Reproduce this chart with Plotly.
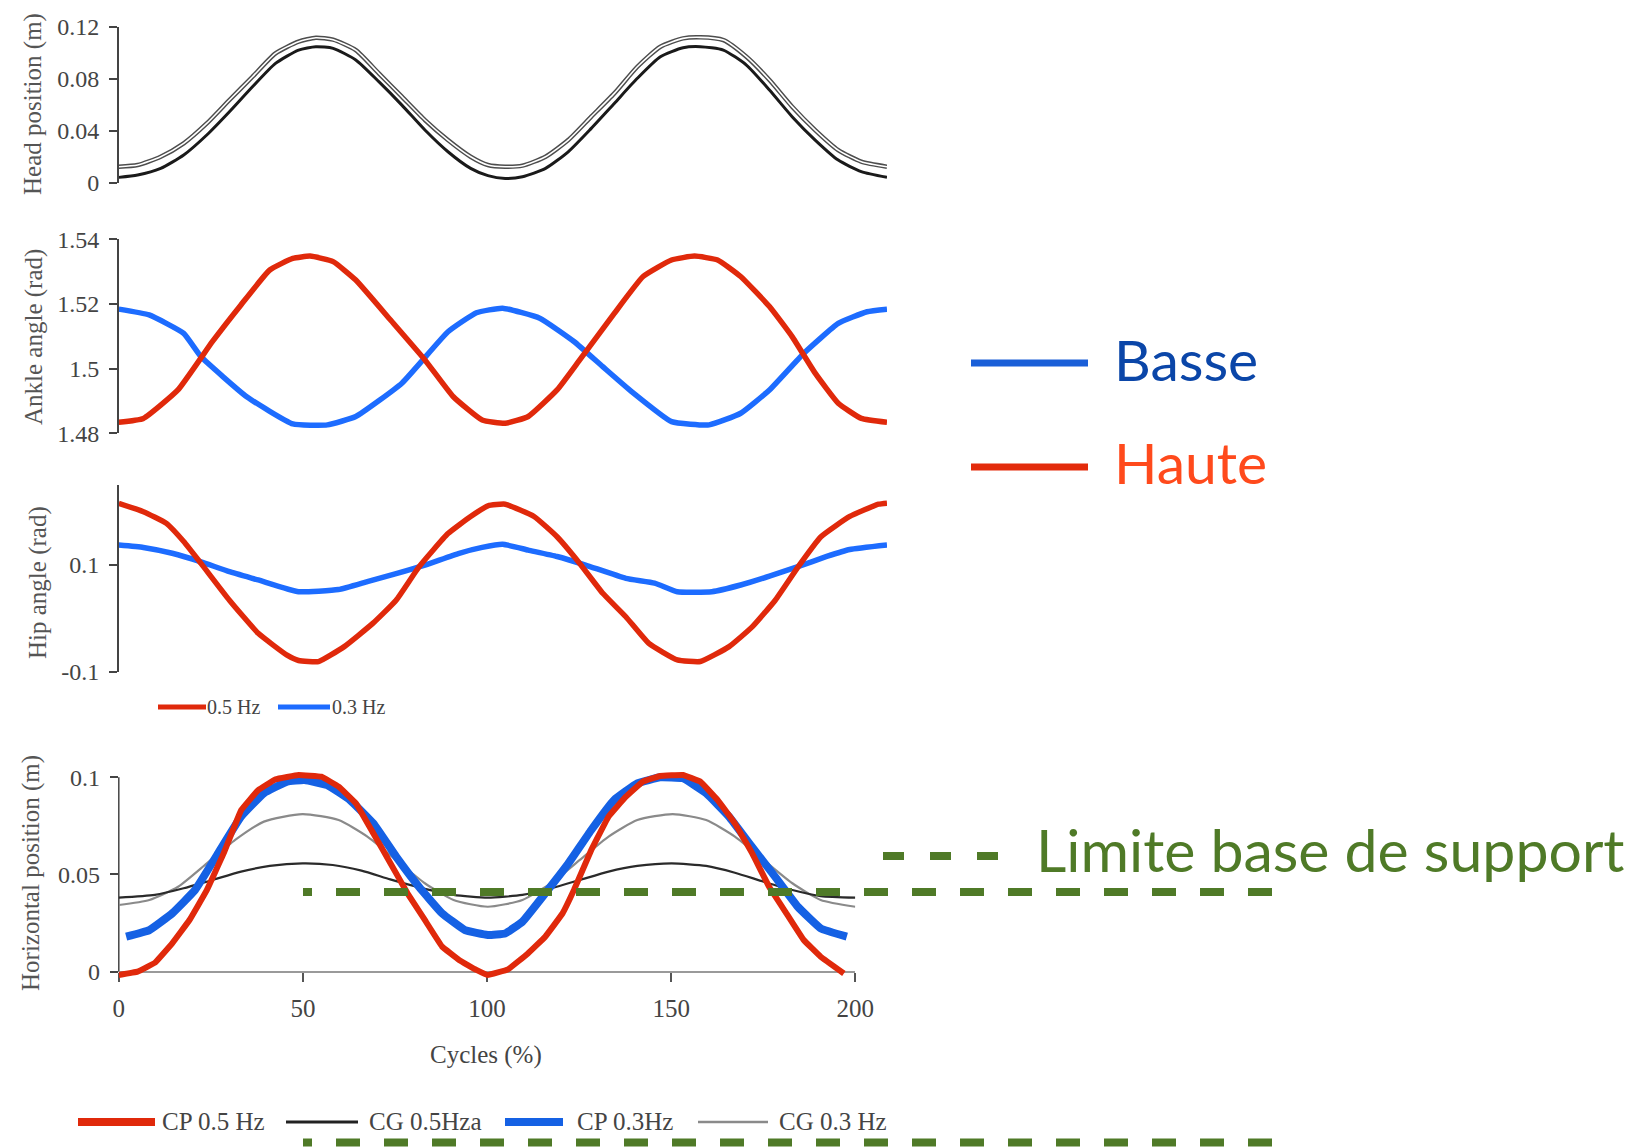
import plotly.graph_objects as go

W, H = 1640, 1147
def PX(x): return x / W
def PY(y): return 1 - y / H

# ---------------- DATA ----------------
head_x = [0, 4.9, 10.9, 16.9, 22.9, 28.8, 34.8, 40.8, 46.8, 51.3, 55.8, 61.7, 67.7, 73.7, 79.7, 85.7, 91.6, 96.1,
          100.6, 105.1, 111.1, 117.0, 123.0, 129.0, 135.0, 141.0, 146.9, 151.4, 157.4, 163.4, 169.4, 175.3, 181.3,
          187.3, 193.3, 200]
head_upper = [0.0123, 0.0136, 0.020, 0.0303, 0.0456, 0.0636, 0.0815, 0.0995, 0.1085, 0.1115, 0.110, 0.102, 0.0841,
              0.0662, 0.0482, 0.0328, 0.020, 0.0136, 0.0123, 0.0131, 0.020, 0.0328, 0.0508, 0.0687, 0.0892, 0.1046,
              0.111, 0.1118, 0.1097, 0.0969, 0.079, 0.0585, 0.0405, 0.0251, 0.0162, 0.0123]
head_lower = [0.0041, 0.0059, 0.011, 0.0213, 0.0367, 0.0546, 0.0738, 0.0918, 0.102, 0.1046, 0.1033, 0.0944, 0.0777,
              0.0597, 0.0405, 0.0238, 0.011, 0.0054, 0.0033, 0.0046, 0.011, 0.0238, 0.0418, 0.061, 0.0803, 0.0969,
              0.1038, 0.1046, 0.102, 0.0905, 0.0713, 0.0508, 0.0328, 0.0174, 0.0085, 0.0041]

ankle_red_x = [0, 6.4, 15.4, 24.4, 31.8, 39.3, 45.3, 49.8, 55.8, 61.7, 70.7, 79.7, 87.1, 94.6, 100.6, 106.6, 114.1,
               120.0, 129.0, 136.5, 143.9, 149.9, 155.9, 161.9, 169.4, 175.3, 181.3, 187.3, 193.3, 200]
ankle_red = [1.4834, 1.4846, 1.4934, 1.5084, 1.5197, 1.5305, 1.5341, 1.5348, 1.5331, 1.5274, 1.5151, 1.5027, 1.4913,
             1.4841, 1.4831, 1.4852, 1.4934, 1.5027, 1.5171, 1.5285, 1.5336, 1.5348, 1.5336, 1.5285, 1.5192, 1.5099,
             1.4986, 1.4893, 1.4846, 1.4834]
ankle_blue_x = [0, 7.9, 16.9, 21.4, 33.3, 45.3, 54.3, 61.7, 73.7, 85.7, 93.1, 99.9, 109.6, 118.5, 126.0, 133.5,
                143.9, 153.7, 161.9, 169.4, 178.3, 187.3, 194.8, 200]
ankle_blue = [1.5184, 1.5166, 1.5109, 1.5037, 1.4913, 1.4829, 1.4826, 1.4852, 1.4955, 1.5114, 1.5173, 1.5187,
              1.5156, 1.5084, 1.5006, 1.4929, 1.4836, 1.4826, 1.4862, 1.4934, 1.5047, 1.5140, 1.5176, 1.5184]

hip_red_x = [0, 6.4, 12.4, 16.9, 21.4, 28.8, 36.3, 43.8, 46.8, 52.0, 58.7, 66.2, 72.2, 78.2, 85.7, 91.6, 96.1, 100.6,
             108.1, 114.1, 120.0, 126.0, 132.0, 138.0, 145.4, 151.4, 158.9, 164.9, 170.9, 176.9, 182.8, 190.3,
             197.8, 200]
hip_red = [0.2156, 0.2, 0.178, 0.144, 0.103, 0.034, -0.028, -0.069, -0.079, -0.081, -0.053, -0.009, 0.034, 0.097,
           0.159, 0.191, 0.211, 0.214, 0.191, 0.153, 0.103, 0.047, 0.003, -0.047, -0.078, -0.081, -0.053, -0.016,
           0.034, 0.097, 0.153, 0.191, 0.214, 0.216]
hip_blue_x = [0, 6.4, 13.9, 21.4, 28.8, 36.3, 46.8, 57.2, 64.7, 72.2, 79.7, 88.6, 94.6, 99.9, 106.6, 114.1, 121.5,
              132.0, 139.5, 145.4, 154.4, 161.9, 169.4, 176.8, 184.3, 190.3, 200]
hip_blue = [0.1375, 0.133, 0.122, 0.106, 0.0875, 0.072, 0.05, 0.054, 0.069, 0.084, 0.1, 0.122, 0.133, 0.139, 0.128,
            0.116, 0.1, 0.075, 0.066, 0.05, 0.05, 0.0625, 0.079, 0.097, 0.116, 0.129, 0.1375]

cp05_x = [0, 5.1, 9.8, 14.5, 19.2, 23.9, 28.5, 33.2, 37.9, 42.6, 48.8, 55.0, 59.7, 64.4, 69.1, 73.8, 78.4, 83.1,
          87.8, 92.4, 97.1, 100.2, 105.7, 111.1, 115.8, 120.5, 123.6, 128.3, 133.0, 137.7, 142.3, 147.0, 153.2,
          157.9, 162.6, 167.3, 172.0, 176.6, 181.3, 186.0, 190.6, 196.9]
cp05 = [-0.0017, 0, 0.0046, 0.0146, 0.0266, 0.042, 0.061, 0.083, 0.0935, 0.099, 0.1012, 0.1003, 0.0952, 0.0866,
        0.0712, 0.0557, 0.0403, 0.0266, 0.0129, 0.006, 0.0009, -0.0017, 0.0012, 0.0094, 0.018, 0.030, 0.042, 0.0626,
        0.0798, 0.090, 0.0978, 0.1007, 0.1012, 0.0978, 0.0883, 0.0763, 0.0609, 0.0437, 0.030, 0.0163, 0.0077,
        -0.0009]
cp03_x = [2.0, 8.3, 14.5, 20.7, 27.0, 33.2, 39.4, 45.7, 50.4, 56.6, 62.8, 69.1, 75.3, 81.5, 87.8, 94.0, 100.2, 104.9,
          109.6, 115.8, 122.1, 128.3, 134.5, 140.8, 147.0, 153.2, 159.5, 165.7, 171.9, 178.2, 184.4, 190.6, 197.7]
cp03 = [0.018, 0.0214, 0.030, 0.042, 0.061, 0.0798, 0.0918, 0.0978, 0.0986, 0.096, 0.0883, 0.0763, 0.0592, 0.0437,
        0.030, 0.0214, 0.0189, 0.0197, 0.0257, 0.0403, 0.0557, 0.0729, 0.0883, 0.0969, 0.100, 0.0995, 0.0918,
        0.0798, 0.0643, 0.0489, 0.0334, 0.0223, 0.018]
cg05_x = [0, 9.8, 17.6, 25.4, 33.2, 41.0, 49.9, 58.1, 65.9, 73.7, 81.5, 90.9, 100.2, 109.6, 117.4, 125.2, 133.0,
          140.8, 150.1, 159.5, 167.3, 175.1, 182.9, 190.6, 200]
cg05 = [0.0381, 0.0395, 0.0429, 0.0472, 0.0515, 0.0544, 0.0557, 0.0549, 0.052, 0.0475, 0.0434, 0.0395, 0.0381,
        0.0395, 0.0429, 0.0472, 0.0515, 0.0544, 0.0557, 0.0544, 0.0509, 0.0463, 0.042, 0.0389, 0.0381]
cg03_x = [0, 8.3, 16.1, 23.9, 31.6, 39.4, 49.9, 59.7, 67.5, 75.3, 83.1, 90.9, 100.2, 109.6, 117.4, 125.2, 133.0,
          140.8, 150.4, 159.5, 167.3, 175.1, 182.9, 190.6, 200]
cg03 = [0.0343, 0.0369, 0.0437, 0.0557, 0.0678, 0.0772, 0.0811, 0.078, 0.0695, 0.0575, 0.0455, 0.0369, 0.0334,
        0.0369, 0.0455, 0.0575, 0.0695, 0.078, 0.0811, 0.078, 0.0695, 0.0575, 0.0455, 0.0369, 0.0334]

support_limit = 0.041

head_ticks = [0, 0.04, 0.08, 0.12]
head_ticktext = ["0", "0.04", "0.08", "0.12"]
ankle_ticks = [1.48, 1.5, 1.52, 1.54]
ankle_ticktext = ["1.48", "1.5", "1.52", "1.54"]
hip_ticks = [-0.1, 0.1]
hip_ticktext = ["-0.1", "0.1"]
hor_ticks = [0, 0.05, 0.1]
hor_ticktext = ["0", "0.05", "0.1"]
cycle_ticks = [0, 50, 100, 150, 200]

# ---------------- STYLE ----------------
RED = "#e0290b"
BLUE_TOP = "#1d6cff"
BLUE_BOT = "#1561e4"
GREEN = "#4f7a27"
SERIF = "Liberation Serif"
SANS = "Lato"
TXT = "#444444"

fig = go.Figure()

def line(x, y, xa, ya, color, width, shape="linear", smoothing=0.6, name=None):
    fig.add_trace(go.Scatter(x=x, y=y, xaxis=xa, yaxis=ya, mode="lines", name=name,
                             line=dict(color=color, width=width, shape=shape, smoothing=smoothing),
                             showlegend=False, hoverinfo="skip"))

# Head position
line(head_x, head_upper, "x", "y", "#4d4d4d", 4.5, "spline", name="Head 0.3 Hz")
line(head_x, head_upper, "x", "y", "#ffffff", 1.6, "spline")
line(head_x, head_lower, "x", "y", "#1a1a1a", 3, "spline", name="Head 0.5 Hz")

# Ankle angle
line(ankle_blue_x, ankle_blue, "x2", "y2", BLUE_TOP, 5.5, "spline", 0.4, name="0.3 Hz")
line(ankle_red_x, ankle_red, "x2", "y2", RED, 5.5, "spline", 0.4, name="0.5 Hz")

# Hip angle
line(hip_blue_x, hip_blue, "x3", "y3", BLUE_TOP, 5.5, "spline", 0.4, name="0.3 Hz")
line(hip_red_x, hip_red, "x3", "y3", RED, 5.5, "spline", 0.4, name="0.5 Hz")

# Horizontal position
line(cg03_x, cg03, "x4", "y4", "#8a8a8a", 2.2, "spline", name="CG 0.3 Hz")
line(cg05_x, cg05, "x4", "y4", "#2a2a2a", 2.2, "spline", name="CG 0.5Hza")
line(cp03_x, cp03, "x4", "y4", BLUE_BOT, 8, "spline", 0.3, name="CP 0.3Hz")
line(cp05_x, cp05, "x4", "y4", RED, 6, "spline", 0.2, name="CP 0.5 Hz")

top_x = [PX(118.8), PX(887)]
bot_x = [PX(118.8), PX(855.3)]

yax_common = dict(ticks="outside", ticklen=8, tickcolor="#444", tickwidth=1.5, showgrid=False, zeroline=False,
                  automargin=False, tickfont=dict(family=SERIF, size=24, color=TXT), ticklabelstandoff=5)
xhidden = dict(visible=False, range=[0, 200], showgrid=False, zeroline=False, automargin=False)

# bottom panel: pad the value range a little so the thick curves are not clipped
hor_pad = 0.006
hor_px_per_unit = (971.7 - 777.3) / 0.1

fig.update_layout(
    template="plotly",
    width=W, height=H, margin=dict(l=0, r=0, t=0, b=0, pad=0, autoexpand=False),
    paper_bgcolor="white", plot_bgcolor="rgba(0,0,0,0)",
    xaxis=dict(domain=top_x, anchor="y", **xhidden),
    xaxis2=dict(domain=top_x, anchor="y2", **xhidden),
    xaxis3=dict(domain=top_x, anchor="y3", **xhidden),
    xaxis4=dict(domain=bot_x, anchor="free", position=PY(971.7), range=[0, 200], showline=True,
                linecolor="#9a9a9a", linewidth=2, layer="below traces",
                ticks="outside", ticklen=9, tickcolor="#555", tickwidth=1.5, tickvals=cycle_ticks,
                showgrid=False, zeroline=False, ticklabelstandoff=5, automargin=False,
                tickfont=dict(family=SERIF, size=25, color=TXT)),
    yaxis=dict(domain=[PY(182.7), PY(26.7)], anchor="x", range=[0, 0.12], showline=True, linecolor="#444",
               linewidth=1.5, tickvals=head_ticks, ticktext=head_ticktext, **yax_common),
    yaxis2=dict(domain=[PY(433.3), PY(239.3)], anchor="x2", range=[1.48, 1.54], showline=True, linecolor="#444",
                linewidth=1.5, tickvals=ankle_ticks, ticktext=ankle_ticktext, **yax_common),
    yaxis3=dict(domain=[PY(671.7), PY(485)], anchor="x3", range=[-0.1, 0.25], showline=True, linecolor="#444",
                linewidth=1.5, tickvals=hip_ticks, ticktext=hip_ticktext, **yax_common),
    yaxis4=dict(domain=[PY(971.7 + hor_pad * hor_px_per_unit), PY(777.3 - hor_pad * hor_px_per_unit)],
                anchor="x4", range=[-hor_pad, 0.1 + hor_pad], showline=False,
                tickvals=hor_ticks, ticktext=hor_ticktext, **yax_common),
)

ann = []
def text(x, y, s, size, color, family=SERIF, angle=0, xanchor="left"):
    ann.append(dict(x=PX(x), y=PY(y), xref="paper", yref="paper", text=s, showarrow=False,
                    textangle=angle, xanchor=xanchor, yanchor="middle",
                    font=dict(family=family, size=size, color=color)))

# axis titles
text(33, 104, "Head position (m)", 25, "#555", angle=-90, xanchor="center")
text(34, 337, "Ankle angle (rad)", 25, "#555", angle=-90, xanchor="center")
text(38, 583, "Hip angle (rad)", 25, "#555", angle=-90, xanchor="center")
text(31, 873, "Horizontal position (m)", 25, "#555", angle=-90, xanchor="center")
text(486, 1055, "Cycles (%)", 25, TXT, xanchor="center")

shapes = []
def seg(x0, x1, y, color, width, dash="solid"):
    shapes.append(dict(type="line", xref="paper", yref="paper", x0=PX(x0), x1=PX(x1), y0=PY(y), y1=PY(y),
                       line=dict(color=color, width=width, dash=dash)))

# manual y-axis line for the bottom panel (from 0 to 0.1 only)
shapes.append(dict(type="line", xref="paper", yref="y4", x0=PX(118.8), x1=PX(118.8), y0=hor_ticks[0],
                   y1=hor_ticks[-1], line=dict(color="#444", width=1.5), layer="below"))

# hip legend
seg(158, 206, 707, RED, 5)
text(205, 707, "0.5 Hz", 20, TXT)
seg(278, 330, 707, BLUE_TOP, 5)
text(330, 707, "0.3 Hz", 20, TXT)

# bottom legend
seg(78, 155, 1122, RED, 8)
text(160, 1121, "CP 0.5 Hz", 25, TXT)
seg(286, 358, 1122, "#222", 3)
text(367, 1121, "CG 0.5Hza", 25, TXT)
seg(505, 563, 1122, BLUE_BOT, 8)
text(575, 1121, "CP 0.3Hz", 25, TXT)
seg(698, 768, 1122, "#8a8a8a", 2.5)
text(777, 1121, "CG 0.3 Hz", 25, TXT)

# right-hand legend
seg(971, 1088, 363, "#1a5fd8", 7)
text(1112, 359, "Basse", 57, "#0b46a8", family=SANS)
seg(971, 1088, 467, "#e32b0b", 7)
text(1112, 462, "Haute", 57, "#ff4a1c", family=SANS)
seg(883, 998, 856, GREEN, 8, dash="21px,26px")
text(1034, 849, "Limite base de support", 59, GREEN, family=SANS)

# support limit line (data-referenced y)
shapes.append(dict(type="line", xref="paper", yref="y4", x0=PX(303), x1=PX(312), y0=support_limit,
                   y1=support_limit, line=dict(color=GREEN, width=8)))
shapes.append(dict(type="line", xref="paper", yref="y4", x0=PX(336), x1=PX(1273), y0=support_limit,
                   y1=support_limit, line=dict(color=GREEN, width=8, dash="24px,24px")))
# duplicate dashed line at the very bottom
seg(303, 312, 1142.5, GREEN, 8)
seg(336, 1273, 1142.5, GREEN, 8, dash="24px,24px")

fig.update_layout(annotations=ann, shapes=shapes)
fig.write_html("out.html")
